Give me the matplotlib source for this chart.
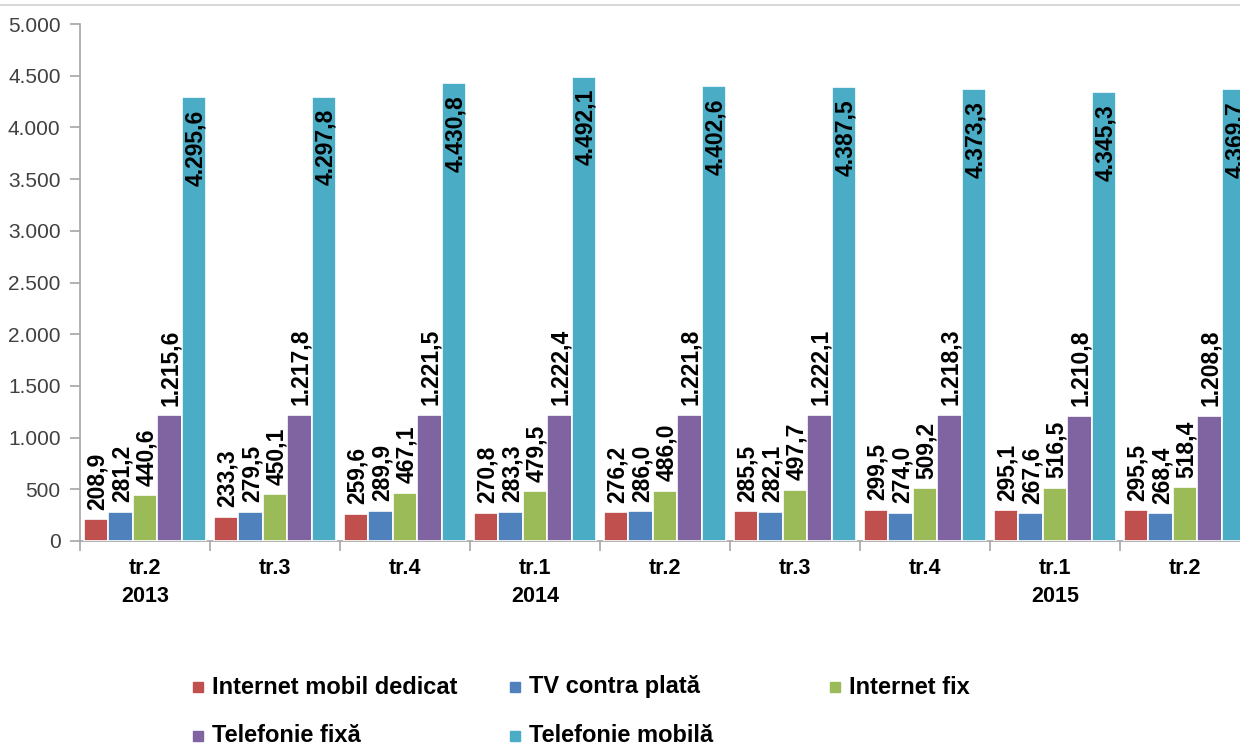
import numpy as np
import matplotlib.pyplot as plt
from matplotlib.lines import Line2D

plt.rcParams['font.family'] = ['Liberation Sans', 'DejaVu Sans']

# ------------------------------------------------
# data
# ------------------------------------------------
quarters = ["tr.2", "tr.3", "tr.4", "tr.1", "tr.2", "tr.3", "tr.4", "tr.1", "tr.2"]
years = ["2013", "", "", "2014", "", "", "", "2015", ""]

series_names = ["Internet mobil dedicat", "TV contra plată", "Internet fix",
                "Telefonie fixă", "Telefonie mobilă"]

internet_mobil = [208.9, 233.3, 259.6, 270.8, 276.2, 285.5, 299.5, 295.1, 295.5]
tv_plata = [281.2, 279.5, 289.9, 283.3, 286.0, 282.1, 274.0, 267.6, 268.4]
internet_fix = [440.6, 450.1, 467.1, 479.5, 486.0, 497.7, 509.2, 516.5, 518.4]
telefonie_fixa = [1215.6, 1217.8, 1221.5, 1222.4, 1221.8, 1222.1, 1218.3, 1210.8, 1208.8]
telefonie_mobila = [4295.6, 4297.8, 4430.8, 4492.1, 4402.6, 4387.5, 4373.3, 4345.3, 4369.7]

colors = ["#C0504D", "#4F81BD", "#9BBB59", "#8064A2", "#4BACC6"]


def fmt(v):
    # romanian style: 1.215,6
    s = f"{v:,.1f}"
    return s.replace(",", "X").replace(".", ",").replace("X", ".")


# ------------------------------------------------
# figure
# ------------------------------------------------
fig = plt.figure(figsize=(12.4, 7.46), dpi=100)
ax = fig.add_axes([80 / 1240, 1 - 541 / 746, 1170 / 1240, 517 / 746])

x = np.arange(len(quarters))
w = 0.1885
all_series = [internet_mobil, tv_plata, internet_fix, telefonie_fixa, telefonie_mobila]

for k, vals in enumerate(all_series):
    pos = x + (k - 2) * w
    bars = ax.bar(pos, vals, width=w, color=colors[k], edgecolor="white",
                  linewidth=1.2, zorder=3)
    for b, v in zip(bars, vals):
        cx = b.get_x() + b.get_width() / 2
        if k == 4:
            ax.annotate(fmt(v), (cx, v), xytext=(1, -9), textcoords="offset points",
                        rotation=90, ha="center", va="top", fontsize=16.5,
                        fontweight="bold", color="black", zorder=4)
        else:
            ax.annotate(fmt(v), (cx, v), xytext=(1, 7), textcoords="offset points",
                        rotation=90, ha="center", va="bottom", fontsize=16.5,
                        fontweight="bold", color="black", zorder=4)

ax.set_xlim(-0.5, len(quarters) - 0.5)
ax.set_ylim(0, 5000)
ax.set_yticks(np.arange(0, 5001, 500))
ax.set_yticklabels([fmt(t)[:-2] if t > 0 else "0" for t in np.arange(0, 5001, 500)])

# group separators as major ticks, labels on minor ticks
ax.set_xticks(np.arange(-0.5, len(quarters), 1.0))
ax.set_xticklabels([])
ax.set_xticks(x, minor=True)
ax.set_xticklabels([q + "\n" + y for q, y in zip(quarters, years)], minor=True,
                   fontsize=15.5, fontweight="bold", linespacing=1.45)
ax.tick_params(axis="x", which="major", length=7, color="#A6A6A6", width=1.2)
ax.tick_params(axis="x", which="minor", length=0, pad=12)
ax.tick_params(axis="y", length=7, color="#A6A6A6", width=1.2, labelsize=15,
               labelcolor="#404040", pad=7)

for s in ["top", "right"]:
    ax.spines[s].set_visible(False)
for s in ["left", "bottom"]:
    ax.spines[s].set_color("#A6A6A6")
    ax.spines[s].set_linewidth(1.2)

# thin border line at the top of the chart area
fig.add_artist(Line2D([0, 1], [1 - 5 / 746, 1 - 5 / 746], color="#D0D0D0", lw=1.2))

# ------------------------------------------------
# legend
# ------------------------------------------------
leg_x = [198 / 1240, 515 / 1240, 835 / 1240, 198 / 1240, 515 / 1240]
leg_y = [1 - 687 / 746, 1 - 687 / 746, 1 - 687 / 746, 1 - 736 / 746, 1 - 736 / 746]
for name, c, lx, ly in zip(series_names, colors, leg_x, leg_y):
    fig.add_artist(Line2D([lx], [ly], marker="s", markersize=7.5, color=c, lw=0))
    fig.text(lx + 14 / 1240, ly, name, fontsize=17, fontweight="bold",
             va="center", ha="left", color="black")

plt.savefig("out.png", dpi=100)
